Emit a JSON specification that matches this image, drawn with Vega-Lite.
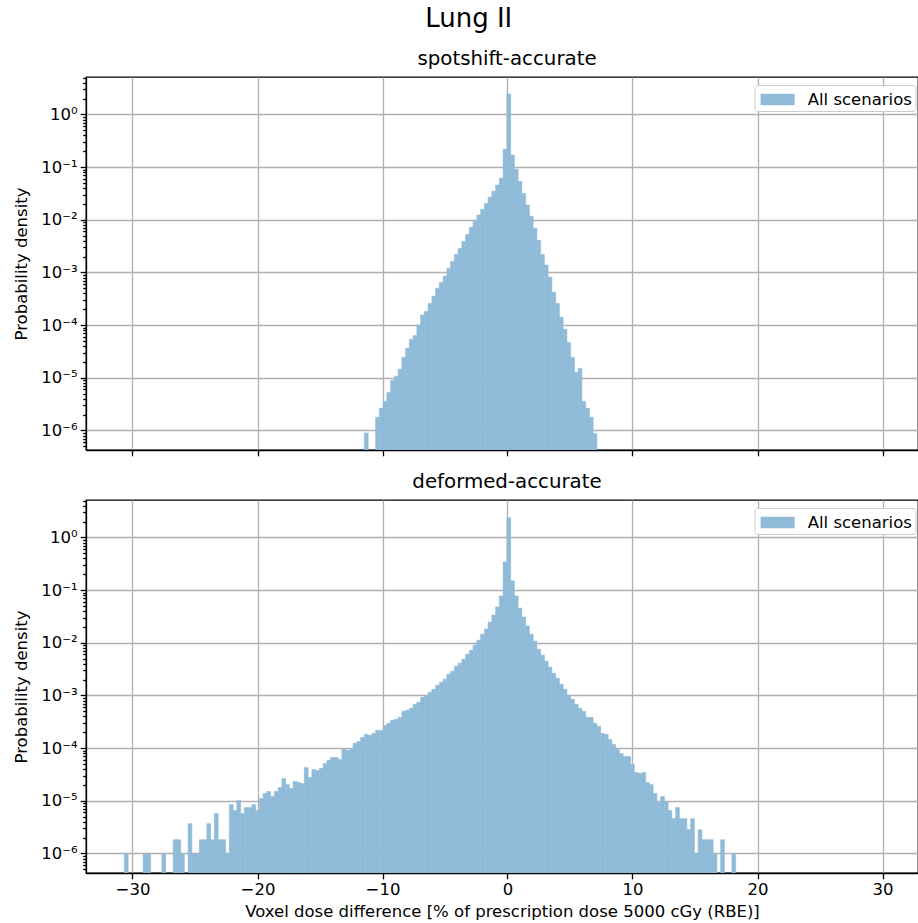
{
  "$schema": "https://vega.github.io/schema/vega-lite/v6.json",
  "padding": {"left": 12, "top": 6, "right": 0, "bottom": 2},
  "title": {"text": "Lung II", "fontSize": 26, "fontWeight": "normal", "anchor": "middle", "color": "black", "offset": 16, "dx": 3},
  "datasets": {
    "top": [
      {"lo": -11.45, "hi": -11.15, "d": 8.91e-7},
      {"lo": -10.55, "hi": -10.25, "d": 1.78e-6},
      {"lo": -10.25, "hi": -9.95, "d": 2.63e-6},
      {"lo": -9.95, "hi": -9.65, "d": 3.55e-6},
      {"lo": -9.65, "hi": -9.35, "d": 5.25e-6},
      {"lo": -9.35, "hi": -9.05, "d": 8.91e-6},
      {"lo": -9.05, "hi": -8.75, "d": 1.07e-5},
      {"lo": -8.75, "hi": -8.45, "d": 1.45e-5},
      {"lo": -8.45, "hi": -8.15, "d": 2.45e-5},
      {"lo": -8.15, "hi": -7.85, "d": 3.63e-5},
      {"lo": -7.85, "hi": -7.55, "d": 5.37e-5},
      {"lo": -7.55, "hi": -7.25, "d": 6.31e-5},
      {"lo": -7.25, "hi": -6.95, "d": 1.0e-4},
      {"lo": -6.95, "hi": -6.65, "d": 1.55e-4},
      {"lo": -6.65, "hi": -6.35, "d": 1.82e-4},
      {"lo": -6.35, "hi": -6.05, "d": 2.57e-4},
      {"lo": -6.05, "hi": -5.75, "d": 3.55e-4},
      {"lo": -5.75, "hi": -5.45, "d": 5.01e-4},
      {"lo": -5.45, "hi": -5.15, "d": 6.46e-4},
      {"lo": -5.15, "hi": -4.85, "d": 8.51e-4},
      {"lo": -4.85, "hi": -4.55, "d": 1.2e-3},
      {"lo": -4.55, "hi": -4.25, "d": 1.62e-3},
      {"lo": -4.25, "hi": -3.95, "d": 2.19e-3},
      {"lo": -3.95, "hi": -3.65, "d": 2.88e-3},
      {"lo": -3.65, "hi": -3.35, "d": 3.89e-3},
      {"lo": -3.35, "hi": -3.05, "d": 5.25e-3},
      {"lo": -3.05, "hi": -2.75, "d": 7.24e-3},
      {"lo": -2.75, "hi": -2.45, "d": 9.33e-3},
      {"lo": -2.45, "hi": -2.15, "d": 1.23e-2},
      {"lo": -2.15, "hi": -1.85, "d": 1.58e-2},
      {"lo": -1.85, "hi": -1.55, "d": 2.04e-2},
      {"lo": -1.55, "hi": -1.25, "d": 2.69e-2},
      {"lo": -1.25, "hi": -0.95, "d": 3.47e-2},
      {"lo": -0.95, "hi": -0.65, "d": 4.57e-2},
      {"lo": -0.65, "hi": -0.35, "d": 6.17e-2},
      {"lo": -0.35, "hi": -0.05, "d": 0.219},
      {"lo": -0.05, "hi": 0.25, "d": 2.45},
      {"lo": 0.25, "hi": 0.55, "d": 0.17},
      {"lo": 0.55, "hi": 0.85, "d": 9.12e-2},
      {"lo": 0.85, "hi": 1.15, "d": 5.37e-2},
      {"lo": 1.15, "hi": 1.45, "d": 3.16e-2},
      {"lo": 1.45, "hi": 1.75, "d": 1.91e-2},
      {"lo": 1.75, "hi": 2.05, "d": 1.17e-2},
      {"lo": 2.05, "hi": 2.35, "d": 6.92e-3},
      {"lo": 2.35, "hi": 2.65, "d": 4.07e-3},
      {"lo": 2.65, "hi": 2.95, "d": 2.19e-3},
      {"lo": 2.95, "hi": 3.25, "d": 1.38e-3},
      {"lo": 3.25, "hi": 3.55, "d": 8.13e-4},
      {"lo": 3.55, "hi": 3.85, "d": 4.17e-4},
      {"lo": 3.85, "hi": 4.15, "d": 2.57e-4},
      {"lo": 4.15, "hi": 4.45, "d": 1.41e-4},
      {"lo": 4.45, "hi": 4.75, "d": 8.32e-5},
      {"lo": 4.75, "hi": 5.05, "d": 4.68e-5},
      {"lo": 5.05, "hi": 5.35, "d": 2.45e-5},
      {"lo": 5.35, "hi": 5.65, "d": 1.26e-5},
      {"lo": 5.65, "hi": 5.95, "d": 1.51e-5},
      {"lo": 5.95, "hi": 6.25, "d": 3.55e-6},
      {"lo": 6.25, "hi": 6.55, "d": 2.63e-6},
      {"lo": 6.55, "hi": 6.85, "d": 1.78e-6},
      {"lo": 6.85, "hi": 7.15, "d": 8.71e-7}
    ],
    "bottom": [
      {"lo": -30.65, "hi": -30.35, "d": 9.7e-7},
      {"lo": -29.15, "hi": -28.85, "d": 9.7e-7},
      {"lo": -28.85, "hi": -28.55, "d": 9.7e-7},
      {"lo": -27.65, "hi": -27.35, "d": 9.7e-7},
      {"lo": -26.75, "hi": -26.45, "d": 1.82e-6},
      {"lo": -26.45, "hi": -26.15, "d": 1.82e-6},
      {"lo": -26.15, "hi": -25.85, "d": 9.7e-7},
      {"lo": -25.55, "hi": -25.25, "d": 3.67e-6},
      {"lo": -25.25, "hi": -24.95, "d": 9.7e-7},
      {"lo": -24.95, "hi": -24.65, "d": 9.7e-7},
      {"lo": -24.65, "hi": -24.35, "d": 1.82e-6},
      {"lo": -24.35, "hi": -24.05, "d": 1.82e-6},
      {"lo": -24.05, "hi": -23.75, "d": 3.67e-6},
      {"lo": -23.75, "hi": -23.45, "d": 1.82e-6},
      {"lo": -23.45, "hi": -23.15, "d": 5.7e-6},
      {"lo": -23.15, "hi": -22.85, "d": 1.82e-6},
      {"lo": -22.85, "hi": -22.55, "d": 1.82e-6},
      {"lo": -22.55, "hi": -22.25, "d": 9.7e-7},
      {"lo": -22.25, "hi": -21.95, "d": 8.45e-6},
      {"lo": -21.95, "hi": -21.65, "d": 6.5e-6},
      {"lo": -21.65, "hi": -21.35, "d": 1.01e-5},
      {"lo": -21.35, "hi": -21.05, "d": 5.7e-6},
      {"lo": -21.05, "hi": -20.75, "d": 7.41e-6},
      {"lo": -20.75, "hi": -20.45, "d": 7.41e-6},
      {"lo": -20.45, "hi": -20.15, "d": 8.45e-6},
      {"lo": -20.15, "hi": -19.85, "d": 6.5e-6},
      {"lo": -19.85, "hi": -19.55, "d": 1.1e-5},
      {"lo": -19.55, "hi": -19.25, "d": 1.37e-5},
      {"lo": -19.25, "hi": -18.95, "d": 1.5e-5},
      {"lo": -18.95, "hi": -18.65, "d": 1.2e-5},
      {"lo": -18.65, "hi": -18.35, "d": 1.5e-5},
      {"lo": -18.35, "hi": -18.05, "d": 1.78e-5},
      {"lo": -18.05, "hi": -17.75, "d": 2.64e-5},
      {"lo": -17.75, "hi": -17.45, "d": 2.03e-5},
      {"lo": -17.45, "hi": -17.15, "d": 1.71e-5},
      {"lo": -17.15, "hi": -16.85, "d": 2.32e-5},
      {"lo": -16.85, "hi": -16.55, "d": 2.22e-5},
      {"lo": -16.55, "hi": -16.25, "d": 2.12e-5},
      {"lo": -16.25, "hi": -15.95, "d": 4.28e-5},
      {"lo": -15.95, "hi": -15.65, "d": 2.76e-5},
      {"lo": -15.65, "hi": -15.35, "d": 3.92e-5},
      {"lo": -15.35, "hi": -15.05, "d": 3.76e-5},
      {"lo": -15.05, "hi": -14.75, "d": 4.1e-5},
      {"lo": -14.75, "hi": -14.45, "d": 5.11e-5},
      {"lo": -14.45, "hi": -14.15, "d": 5.82e-5},
      {"lo": -14.15, "hi": -13.85, "d": 6.64e-5},
      {"lo": -13.85, "hi": -13.55, "d": 6.64e-5},
      {"lo": -13.55, "hi": -13.25, "d": 6.08e-5},
      {"lo": -13.25, "hi": -12.95, "d": 9.44e-5},
      {"lo": -12.95, "hi": -12.65, "d": 9.03e-5},
      {"lo": -12.65, "hi": -12.35, "d": 9.44e-5},
      {"lo": -12.35, "hi": -12.05, "d": 1.23e-4},
      {"lo": -12.05, "hi": -11.75, "d": 1.34e-4},
      {"lo": -11.75, "hi": -11.45, "d": 1.6e-4},
      {"lo": -11.45, "hi": -11.15, "d": 1.82e-4},
      {"lo": -11.15, "hi": -10.85, "d": 1.74e-4},
      {"lo": -10.85, "hi": -10.55, "d": 1.9e-4},
      {"lo": -10.55, "hi": -10.25, "d": 2.17e-4},
      {"lo": -10.25, "hi": -9.95, "d": 2.17e-4},
      {"lo": -9.95, "hi": -9.65, "d": 2.7e-4},
      {"lo": -9.65, "hi": -9.35, "d": 2.95e-4},
      {"lo": -9.35, "hi": -9.05, "d": 3.37e-4},
      {"lo": -9.05, "hi": -8.75, "d": 3.52e-4},
      {"lo": -8.75, "hi": -8.45, "d": 3.84e-4},
      {"lo": -8.45, "hi": -8.15, "d": 4.99e-4},
      {"lo": -8.15, "hi": -7.85, "d": 5.21e-4},
      {"lo": -7.85, "hi": -7.55, "d": 5.7e-4},
      {"lo": -7.55, "hi": -7.25, "d": 6.79e-4},
      {"lo": -7.25, "hi": -6.95, "d": 7.41e-4},
      {"lo": -6.95, "hi": -6.65, "d": 9.23e-4},
      {"lo": -6.65, "hi": -6.35, "d": 9.64e-4},
      {"lo": -6.35, "hi": -6.05, "d": 1.15e-3},
      {"lo": -6.05, "hi": -5.75, "d": 1.31e-3},
      {"lo": -5.75, "hi": -5.45, "d": 1.56e-3},
      {"lo": -5.45, "hi": -5.15, "d": 1.78e-3},
      {"lo": -5.15, "hi": -4.85, "d": 2.03e-3},
      {"lo": -4.85, "hi": -4.55, "d": 2.53e-3},
      {"lo": -4.55, "hi": -4.25, "d": 2.88e-3},
      {"lo": -4.25, "hi": -3.95, "d": 3.6e-3},
      {"lo": -3.95, "hi": -3.65, "d": 4.1e-3},
      {"lo": -3.65, "hi": -3.35, "d": 4.89e-3},
      {"lo": -3.35, "hi": -3.05, "d": 6.08e-3},
      {"lo": -3.05, "hi": -2.75, "d": 7.25e-3},
      {"lo": -2.75, "hi": -2.45, "d": 9.03e-3},
      {"lo": -2.45, "hi": -2.15, "d": 1.12e-2},
      {"lo": -2.15, "hi": -1.85, "d": 1.46e-2},
      {"lo": -1.85, "hi": -1.55, "d": 1.82e-2},
      {"lo": -1.55, "hi": -1.25, "d": 2.48e-2},
      {"lo": -1.25, "hi": -0.95, "d": 3.37e-2},
      {"lo": -0.95, "hi": -0.65, "d": 4.78e-2},
      {"lo": -0.65, "hi": -0.35, "d": 7.74e-2},
      {"lo": -0.35, "hi": -0.05, "d": 0.344},
      {"lo": -0.05, "hi": 0.25, "d": 2.37},
      {"lo": 0.25, "hi": 0.55, "d": 0.15},
      {"lo": 0.55, "hi": 0.85, "d": 7.74e-2},
      {"lo": 0.85, "hi": 1.15, "d": 4.57e-2},
      {"lo": 1.15, "hi": 1.45, "d": 3.08e-2},
      {"lo": 1.45, "hi": 1.75, "d": 2.08e-2},
      {"lo": 1.75, "hi": 2.05, "d": 1.46e-2},
      {"lo": 2.05, "hi": 2.35, "d": 1.08e-2},
      {"lo": 2.35, "hi": 2.65, "d": 7.57e-3},
      {"lo": 2.65, "hi": 2.95, "d": 5.82e-3},
      {"lo": 2.95, "hi": 3.25, "d": 4.48e-3},
      {"lo": 3.25, "hi": 3.55, "d": 3.44e-3},
      {"lo": 3.55, "hi": 3.85, "d": 2.64e-3},
      {"lo": 3.85, "hi": 4.15, "d": 2.12e-3},
      {"lo": 4.15, "hi": 4.45, "d": 1.63e-3},
      {"lo": 4.45, "hi": 4.75, "d": 1.31e-3},
      {"lo": 4.75, "hi": 5.05, "d": 1.01e-3},
      {"lo": 5.05, "hi": 5.35, "d": 8.45e-4},
      {"lo": 5.35, "hi": 5.65, "d": 6.79e-4},
      {"lo": 5.65, "hi": 5.95, "d": 5.7e-4},
      {"lo": 5.95, "hi": 6.25, "d": 4.99e-4},
      {"lo": 6.25, "hi": 6.55, "d": 3.84e-4},
      {"lo": 6.55, "hi": 6.85, "d": 3.84e-4},
      {"lo": 6.85, "hi": 7.15, "d": 2.95e-4},
      {"lo": 7.15, "hi": 7.45, "d": 2.59e-4},
      {"lo": 7.45, "hi": 7.75, "d": 1.9e-4},
      {"lo": 7.75, "hi": 8.05, "d": 1.82e-4},
      {"lo": 8.05, "hi": 8.35, "d": 1.46e-4},
      {"lo": 8.35, "hi": 8.65, "d": 1.17e-4},
      {"lo": 8.65, "hi": 8.95, "d": 9.44e-5},
      {"lo": 8.95, "hi": 9.25, "d": 7.91e-5},
      {"lo": 9.25, "hi": 9.55, "d": 6.93e-5},
      {"lo": 9.55, "hi": 9.85, "d": 6.93e-5},
      {"lo": 9.85, "hi": 10.15, "d": 4.89e-5},
      {"lo": 10.15, "hi": 10.45, "d": 3.44e-5},
      {"lo": 10.45, "hi": 10.75, "d": 3.29e-5},
      {"lo": 10.75, "hi": 11.05, "d": 3.44e-5},
      {"lo": 11.05, "hi": 11.35, "d": 2.22e-5},
      {"lo": 11.35, "hi": 11.65, "d": 2.03e-5},
      {"lo": 11.65, "hi": 11.95, "d": 1.37e-5},
      {"lo": 11.95, "hi": 12.25, "d": 9.23e-6},
      {"lo": 12.25, "hi": 12.55, "d": 1.2e-5},
      {"lo": 12.55, "hi": 12.85, "d": 9.64e-6},
      {"lo": 12.85, "hi": 13.15, "d": 6.5e-6},
      {"lo": 13.15, "hi": 13.45, "d": 4.57e-6},
      {"lo": 13.45, "hi": 13.75, "d": 7.41e-6},
      {"lo": 13.75, "hi": 14.05, "d": 4.57e-6},
      {"lo": 14.05, "hi": 14.35, "d": 4.57e-6},
      {"lo": 14.35, "hi": 14.65, "d": 2.82e-6},
      {"lo": 14.65, "hi": 14.95, "d": 4.57e-6},
      {"lo": 14.95, "hi": 15.25, "d": 9.7e-7},
      {"lo": 15.25, "hi": 15.55, "d": 2.82e-6},
      {"lo": 15.55, "hi": 15.85, "d": 1.82e-6},
      {"lo": 15.85, "hi": 16.15, "d": 1.82e-6},
      {"lo": 16.15, "hi": 16.45, "d": 1.82e-6},
      {"lo": 16.45, "hi": 16.75, "d": 9.7e-7},
      {"lo": 17.05, "hi": 17.35, "d": 1.82e-6},
      {"lo": 17.95, "hi": 18.25, "d": 9.7e-7}
    ]
  },
  "vconcat": [
    {
      "data": {"name": "top"},
      "width": 832,
      "height": 373,
      "title": {"text": "spotshift-accurate", "fontSize": 19.8, "fontWeight": "normal", "frame": "group", "dx": 5, "offset": 1, "color": "black"},
      "mark": {"type": "bar", "clip": true, "stroke": "#8fbbd9", "strokeWidth": 0.6},
      "encoding": {
        "x": {"field": "lo", "type": "quantitative", "scale": {"domain": [-33.72, 32.84], "nice": false, "zero": false},
              "axis": {"values": [-30, -20, -10, 0, 10, 20, 30], "labels": false, "title": null}},
        "x2": {"field": "hi"},
        "y": {"field": "d", "type": "quantitative", "scale": {"type": "log", "domain": [4.25e-7, 5.15], "nice": false},
              "axis": {"title": "Probability density",
                       "tickSize": {"condition": {"test": "abs(log(datum.value)/LN10 - round(log(datum.value)/LN10)) < 0.001", "value": 5.8}, "value": 3.3},
                       "gridOpacity": {"condition": {"test": "abs(log(datum.value)/LN10 - round(log(datum.value)/LN10)) < 0.001", "value": 1}, "value": 0}}},
        "y2": {"datum": 4.25e-7},
        "color": {"datum": "All scenarios", "scale": {"range": ["#8fbbd9"]},
                  "legend": {"orient": "none", "legendX": 668.5, "legendY": 8, "title": null, "fillColor": "white", "strokeColor": "#cccccc", "cornerRadius": 3, "padding": 3, "symbolType": "M-1.5,-0.5L1.5,-0.5L1.5,0.5L-1.5,0.5Z", "symbolSize": 514, "symbolOffset": 8.6, "symbolStrokeWidth": 0, "symbolOpacity": 1, "labelFontSize": 16.5, "labelOffset": 18.6, "labelColor": "black"}}
      }
    },
    {
      "data": {"name": "bottom"},
      "width": 832,
      "height": 373,
      "title": {"text": "deformed-accurate", "fontSize": 19.8, "fontWeight": "normal", "frame": "group", "dx": 5, "offset": 1, "color": "black"},
      "mark": {"type": "bar", "clip": true, "stroke": "#8fbbd9", "strokeWidth": 0.6},
      "encoding": {
        "x": {"field": "lo", "type": "quantitative", "scale": {"domain": [-33.72, 32.84], "nice": false, "zero": false},
              "axis": {"values": [-30, -20, -10, 0, 10, 20, 30], "title": "Voxel dose difference [% of prescription dose 5000 cGy (RBE)]"}},
        "x2": {"field": "hi"},
        "y": {"field": "d", "type": "quantitative", "scale": {"type": "log", "domain": [4.25e-7, 5.15], "nice": false},
              "axis": {"title": "Probability density",
                       "tickSize": {"condition": {"test": "abs(log(datum.value)/LN10 - round(log(datum.value)/LN10)) < 0.001", "value": 5.8}, "value": 3.3},
                       "gridOpacity": {"condition": {"test": "abs(log(datum.value)/LN10 - round(log(datum.value)/LN10)) < 0.001", "value": 1}, "value": 0}}},
        "y2": {"datum": 4.25e-7},
        "color": {"datum": "All scenarios", "scale": {"range": ["#8fbbd9"]},
                  "legend": {"orient": "none", "legendX": 668.5, "legendY": 8, "title": null, "fillColor": "white", "strokeColor": "#cccccc", "cornerRadius": 3, "padding": 3, "symbolType": "M-1.5,-0.5L1.5,-0.5L1.5,0.5L-1.5,0.5Z", "symbolSize": 514, "symbolOffset": 8.6, "symbolStrokeWidth": 0, "symbolOpacity": 1, "labelFontSize": 16.5, "labelOffset": 18.6, "labelColor": "black"}}
      }
    }
  ],
  "spacing": 13,
  "resolve": {"legend": {"color": "independent"}, "scale": {"color": "independent", "x": "independent", "y": "independent"}},
  "config": {
    "font": "DejaVu Sans",
    "view": {"stroke": "black", "strokeWidth": 1.3},
    "axis": {
      "domainColor": "black", "domainWidth": 1.3, "tickColor": "black", "tickWidth": 1.3, "tickSize": 5.8,
      "labelFontSize": 16.5, "labelColor": "black", "labelPadding": 3,
      "titleFontSize": 16.5, "titleFontWeight": "normal", "titleColor": "black",
      "gridColor": "#b0b0b0", "gridWidth": 1.3, "zindex": 1
    },
    "axisX": {"titlePadding": 5.5, "labelPadding": 2.5, "labelFlush": false, "labelOverlap": false},
    "axisY": {
      "titlePadding": 11.5,
      "values": [5e-7, 6e-7, 7e-7, 8e-7, 9e-7, 1e-6, 2e-6, 3e-6, 4e-6, 5e-6, 6e-6, 7e-6, 8e-6, 9e-6, 1e-5, 2e-5, 3e-5, 4e-5, 5e-5, 6e-5, 7e-5, 8e-5, 9e-5, 1e-4, 2e-4, 3e-4, 4e-4, 5e-4, 6e-4, 7e-4, 8e-4, 9e-4, 0.001, 0.002, 0.003, 0.004, 0.005, 0.006, 0.007, 0.008, 0.009, 0.01, 0.02, 0.03, 0.04, 0.05, 0.06, 0.07, 0.08, 0.09, 0.1, 0.2, 0.3, 0.4, 0.5, 0.6, 0.7, 0.8, 0.9, 1, 2, 3, 4, 5],
      "labelExpr": "abs(log(datum.value)/LN10 - round(log(datum.value)/LN10)) < 0.001 ? ['10⁻⁶','10⁻⁵','10⁻⁴','10⁻³','10⁻²','10⁻¹','10⁰'][round(log(datum.value)/LN10)+6] : ''",
      "labelOverlap": false,
      "labelFlush": false
    },
    "legend": {"labelFont": "DejaVu Sans"}
  }
}
